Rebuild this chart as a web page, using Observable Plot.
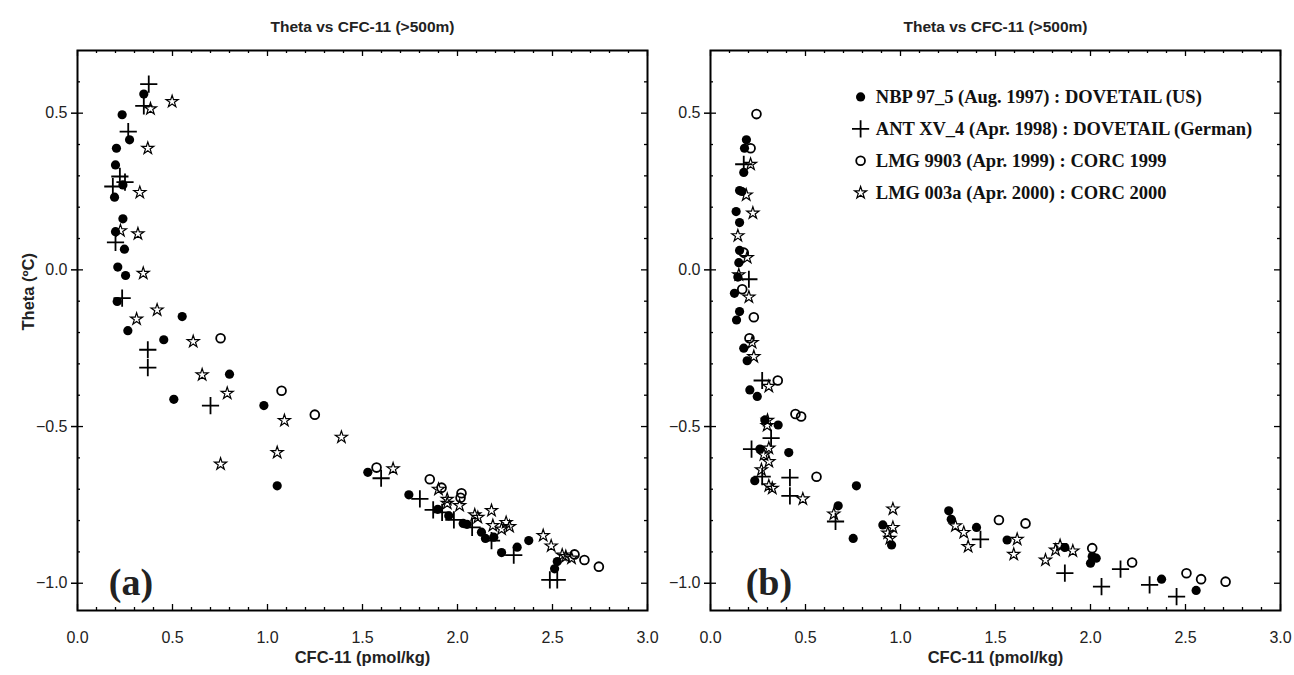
<!DOCTYPE html>
<html><head><meta charset="utf-8">
<script src="https://cdn.jsdelivr.net/npm/d3@7"></script>
<script src="https://cdn.jsdelivr.net/npm/@observablehq/plot@0.6"></script>
<style>
body{margin:0;background:#fff;}
#wrap{position:relative;width:1294px;height:675px;overflow:hidden;background:#fff;}
#wrap svg{position:absolute;top:0;}
</style></head><body><div id="wrap"></div>
<script>
// ---------- text ----------
const titleText = "Theta vs CFC-11 (>500m)";
const xLabel = "CFC-11 (pmol/kg)";
const yLabel = "Theta (ºC)";
const seriesNames = [
  "NBP 97_5 (Aug. 1997) : DOVETAIL (US)",
  "ANT XV_4 (Apr. 1998) : DOVETAIL (German)",
  "LMG 9903 (Apr. 1999) : CORC 1999",
  "LMG 003a (Apr. 2000) : CORC 2000"
];
const panelTags = ["(a)", "(b)"];
const xTicks = [0, 0.5, 1, 1.5, 2, 2.5, 3];
const yTicks = [-1, -0.5, 0, 0.5];

// ---------- panel (a) data: [CFC-11, Theta] ----------
const a_nbp = [[0.349,0.561],[0.235,0.495],[0.274,0.415],[0.205,0.388],[0.200,0.335],[0.239,0.271],[0.195,0.232],[0.239,0.163],[0.200,0.122],[0.247,0.066],[0.212,0.009],[0.253,-0.018],[0.209,-0.101],[0.551,-0.149],[0.265,-0.194],[0.454,-0.223],[0.800,-0.333],[0.507,-0.413],[0.981,-0.433],[1.051,-0.689],[1.528,-0.646],[1.744,-0.718],[1.896,-0.764],[1.954,-0.785],[2.030,-0.809],[2.050,-0.812],[2.126,-0.837],[2.147,-0.857],[2.191,-0.853],[2.232,-0.902],[2.314,-0.885],[2.375,-0.864],[2.525,-0.931],[2.511,-0.954]];
const a_ant = [[0.375,0.593],[0.349,0.523],[0.267,0.441],[0.223,0.298],[0.186,0.266],[0.250,0.280],[0.200,0.088],[0.235,-0.090],[0.370,-0.255],[0.370,-0.312],[0.700,-0.433],[1.598,-0.665],[1.802,-0.731],[1.872,-0.766],[1.919,-0.774],[1.981,-0.798],[2.077,-0.822],[2.179,-0.864],[2.296,-0.910],[2.486,-0.989],[2.525,-0.989]];
const a_lmg99 = [[0.753,-0.218],[1.074,-0.386],[1.249,-0.462],[1.574,-0.631],[1.854,-0.668],[1.916,-0.695],[2.021,-0.713],[2.016,-0.727],[2.616,-0.908],[2.668,-0.926],[2.744,-0.947]];
const a_lmg00 = [[0.384,0.514],[0.498,0.537],[0.370,0.388],[0.328,0.247],[0.226,0.125],[0.318,0.115],[0.346,-0.011],[0.419,-0.128],[0.311,-0.157],[0.609,-0.229],[0.656,-0.335],[0.788,-0.394],[1.089,-0.481],[1.389,-0.534],[1.051,-0.583],[0.753,-0.620],[1.661,-0.635],[1.900,-0.700],[1.946,-0.732],[1.946,-0.745],[2.011,-0.752],[2.091,-0.782],[2.107,-0.790],[2.179,-0.768],[2.186,-0.816],[2.232,-0.827],[2.256,-0.806],[2.274,-0.819],[2.451,-0.848],[2.493,-0.881],[2.551,-0.910],[2.570,-0.915],[2.600,-0.920]];

// ---------- panel (b) data ----------
const b_nbp = [[0.189,0.415],[0.179,0.388],[0.175,0.311],[0.153,0.253],[0.165,0.250],[0.135,0.186],[0.153,0.151],[0.153,0.062],[0.149,0.023],[0.144,-0.023],[0.126,-0.075],[0.153,-0.133],[0.137,-0.160],[0.175,-0.250],[0.193,-0.290],[0.207,-0.383],[0.246,-0.404],[0.286,-0.479],[0.356,-0.495],[0.260,-0.572],[0.412,-0.583],[0.233,-0.673],[0.768,-0.689],[0.672,-0.753],[0.751,-0.857],[0.907,-0.814],[0.953,-0.878],[1.254,-0.769],[1.267,-0.796],[1.400,-0.822],[1.561,-0.862],[1.865,-0.886],[2.009,-0.915],[2.030,-0.920],[2.000,-0.936],[2.374,-0.987],[2.556,-1.023]];
const b_ant = [[0.175,0.337],[0.202,-0.030],[0.272,-0.353],[0.319,-0.537],[0.216,-0.572],[0.272,-0.660],[0.418,-0.663],[0.418,-0.721],[0.658,-0.803],[1.421,-0.860],[1.865,-0.968],[2.058,-1.011],[2.158,-0.955],[2.311,-1.005],[2.453,-1.043]];
const b_lmg99 = [[0.242,0.497],[0.211,0.388],[0.175,0.055],[0.167,-0.062],[0.228,-0.151],[0.205,-0.218],[0.354,-0.353],[0.447,-0.460],[0.477,-0.468],[0.558,-0.660],[1.518,-0.798],[1.658,-0.809],[2.009,-0.888],[2.219,-0.934],[2.505,-0.968],[2.582,-0.987],[2.711,-0.995]];
const b_lmg00 = [[0.211,0.337],[0.188,0.239],[0.223,0.181],[0.144,0.109],[0.193,0.039],[0.149,-0.016],[0.202,-0.087],[0.219,-0.232],[0.228,-0.277],[0.307,-0.372],[0.300,-0.480],[0.298,-0.497],[0.307,-0.569],[0.281,-0.590],[0.307,-0.612],[0.268,-0.638],[0.307,-0.689],[0.325,-0.697],[0.486,-0.731],[0.649,-0.779],[0.960,-0.763],[0.960,-0.822],[0.933,-0.840],[0.944,-0.857],[1.289,-0.817],[1.333,-0.838],[1.356,-0.883],[1.614,-0.860],[1.596,-0.908],[1.763,-0.926],[1.816,-0.894],[1.840,-0.880],[1.907,-0.897]];

// ---------- drawing ----------
const SANS = "'Liberation Sans', Arial, Helvetica, sans-serif";
const SERIF = "'Liberation Serif', 'Times New Roman', Times, serif";
const symStyles = [
  {symbol: "circle", fill: "black", stroke: "none", r: 4.6},
  {symbol: "plus", fill: "none", stroke: "black", strokeWidth: 1.8, r: 5.6},
  {symbol: "circle", fill: "none", stroke: "black", strokeWidth: 1.8, r: 4.4},
  {symbol: "star", fill: "none", stroke: "black", strokeWidth: 1.2, r: 3.8}
];

function panel({series, tag, width, left, marginLeft, marginRight, showYLabel, legend}) {
  const height = 675, marginTop = 50, marginBottom = 65;
  const xDom = [0, 3], yDom = [-1.087, 0.70];
  const pxu = (width - marginLeft - marginRight) / (xDom[1] - xDom[0]);
  const pyu = (height - marginTop - marginBottom) / (yDom[1] - yDom[0]);
  const xAll = d3.range(0, 31).map(i => ({v: i / 10, major: i % 5 === 0}));
  const yAll = d3.range(-10, 7).map(i => ({v: i / 10, major: i % 5 === 0}));
  const len = d => d.major ? 6 : 3;
  const tickStyle = {stroke: "black", strokeWidth: 1.3};
  const marks = [
    Plot.ruleX(xAll, {x: "v", y1: yDom[0], y2: d => yDom[0] + len(d) / pyu, ...tickStyle}),
    Plot.ruleX(xAll, {x: "v", y1: yDom[1], y2: d => yDom[1] - len(d) / pyu, ...tickStyle}),
    Plot.ruleY(yAll, {y: "v", x1: xDom[0], x2: d => xDom[0] + len(d) / pxu, ...tickStyle}),
    Plot.ruleY(yAll, {y: "v", x1: xDom[1], x2: d => xDom[1] - len(d) / pxu, ...tickStyle}),
    Plot.axisX(xTicks, {anchor: "bottom", tickSize: 0, tickPadding: 21, tickFormat: d3.format(".1f"), label: null, fontSize: 16, fill: "#222"}),
    Plot.axisY(yTicks, {anchor: "left", tickSize: 6, tickPadding: 4, strokeWidth: 1.5, tickFormat: d3.format(".1f"), label: null, fontSize: 16, fill: "#222"}),
    Plot.frame({stroke: "black", strokeWidth: 2}),
    Plot.text([titleText], {text: d => d, frameAnchor: "top", dy: -30, fontWeight: "bold", fontSize: 15.5, fill: "#222"}),
    Plot.text([xLabel], {text: d => d, frameAnchor: "bottom", dy: 52, fontWeight: "bold", fontSize: 16.5, fill: "#222"}),
    Plot.text([tag], {text: d => d, x: 0.165 + (left ? 0.02 : 0), y: -1.0, textAnchor: "start", fontFamily: SERIF, fontWeight: "bold", fontSize: 38, fill: "#222"})
  ];
  if (showYLabel) marks.push(Plot.text([yLabel], {text: d => d, frameAnchor: "left", dx: -49, rotate: -90, fontWeight: "bold", fontSize: 16.5, fill: "#222"}));
  const order = [3, 2, 0, 1];
  for (const k of order) {
    marks.push(Plot.dot(series[k], {x: d => d[0], y: d => d[1], ...symStyles[k]}));
  }
  if (legend) {
    const lx = 0.79, tx = 0.87;
    const rowY = [0.552, 0.450, 0.348, 0.246];
    seriesNames.forEach((name, k) => {
      marks.push(Plot.dot([rowY[k]], {x: lx, y: d => d, ...symStyles[k]}));
      marks.push(Plot.text([name], {text: d => d, x: tx, y: rowY[k], textAnchor: "start", fontFamily: SERIF, fontWeight: "bold", fontSize: 18.5, fill: "#111"}));
    });
  }
  const svg = Plot.plot({
    width, height, marginTop, marginBottom, marginLeft, marginRight,
    x: {domain: xDom, axis: null},
    y: {domain: yDom, axis: null},
    style: {fontFamily: SANS, fontSize: "16px", background: "transparent", overflow: "visible"},
    marks
  });
  svg.style.left = left + "px";
  return svg;
}

const wrap = document.getElementById("wrap");
wrap.appendChild(panel({series: [a_nbp, a_ant, a_lmg99, a_lmg00], tag: panelTags[0], width: 660, left: 0, marginLeft: 77, marginRight: 13, showYLabel: true, legend: false}));
wrap.appendChild(panel({series: [b_nbp, b_ant, b_lmg99, b_lmg00], tag: panelTags[1], width: 647, left: 647, marginLeft: 63, marginRight: 14, showYLabel: false, legend: true}));
</script></body></html>
